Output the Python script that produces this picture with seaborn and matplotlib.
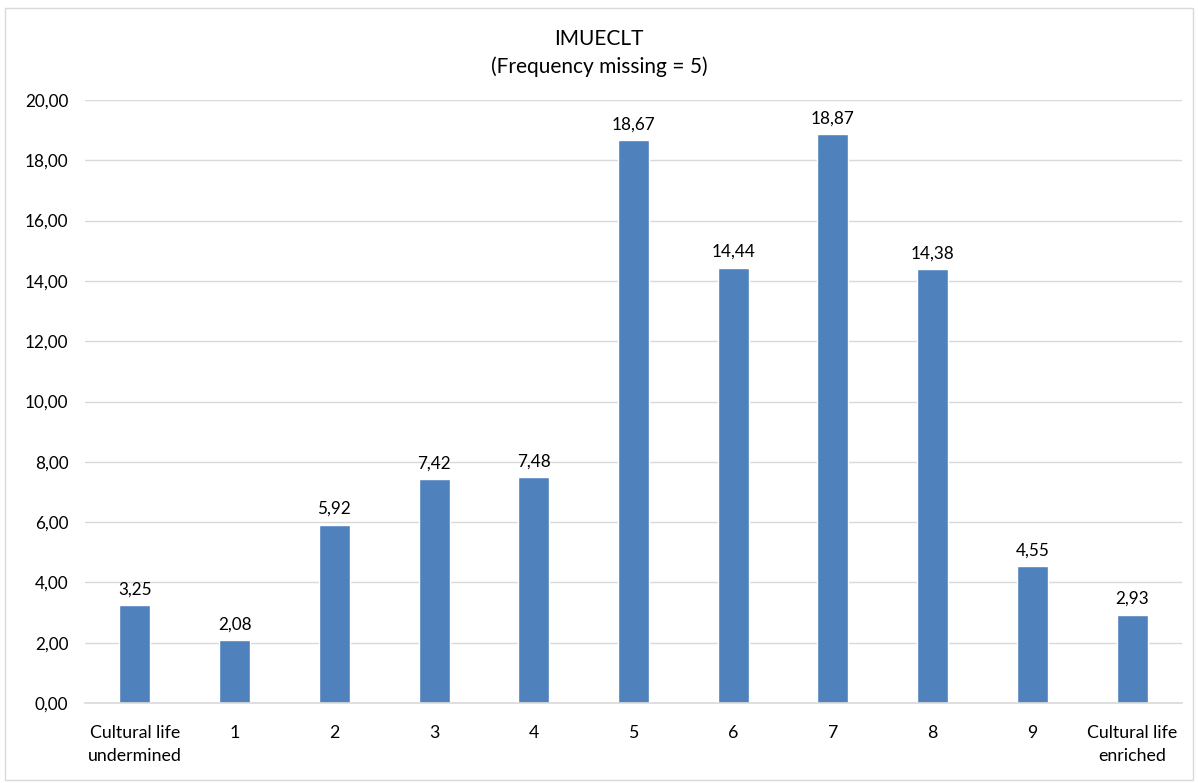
import matplotlib
matplotlib.use("Agg")
import matplotlib.pyplot as plt
import seaborn as sns
import pandas as pd
from matplotlib.patches import Rectangle

categories = ["Cultural life\nundermined", "1", "2", "3", "4", "5", "6", "7", "8", "9", "Cultural life\nenriched"]
values = [3.25, 2.08, 5.92, 7.42, 7.48, 18.67, 14.44, 18.87, 14.38, 4.55, 2.93]
yticks = [0, 2, 4, 6, 8, 10, 12, 14, 16, 18, 20]
title = "IMUECLT\n(Frequency missing = 5)"

sns.set_theme(style="white")
plt.rcParams['font.family'] = ['Lato', 'DejaVu Sans']

df = pd.DataFrame({"cat": categories, "val": values})

fig = plt.figure(figsize=(11.98, 7.83), dpi=100)
ax = fig.add_axes([85/1198, 1-703/783, (1182-85)/1198, (703-100)/783])

sns.barplot(data=df, x="cat", y="val", order=categories, color="#4F81BD",
            saturation=1, width=0.31, ax=ax, zorder=3)

ax.set_ylim(0, 20)
ax.set_xlim(-0.5, len(categories)-0.5)
ax.set_yticks(yticks)
ax.set_yticklabels([f"{v:.2f}".replace(".", ",") for v in yticks], fontsize=12.3, color="#000000")
ax.set_xticklabels(categories, fontsize=12.8, color="#000000", linespacing=1.55)
ax.set_xlabel("")
ax.set_ylabel("")
ax.grid(axis="y", color="#D9D9D9", linewidth=1, zorder=0)
for s in ["top", "right", "left"]:
    ax.spines[s].set_visible(False)
ax.spines["bottom"].set_color("#D9D9D9")
ax.spines["bottom"].set_linewidth(1.2)
ax.spines["bottom"].set_zorder(4)
ax.tick_params(axis="y", length=0, pad=12)
ax.tick_params(axis="x", length=0, pad=16)

for i, v in enumerate(values):
    ax.annotate(f"{v:.2f}".replace(".", ","), (i, v), xytext=(0, 5.5), textcoords="offset points",
                ha="center", va="bottom", fontsize=12.3, color="#000000")

fig.text(0.5, 1-53/783, title, ha="center", va="center", fontsize=15, color="#000000", linespacing=1.45)

fig.patches.append(Rectangle((5/1198, 3/783), 1188/1198, 772/783, transform=fig.transFigure,
                             fill=False, edgecolor="#D9D9D9", linewidth=1))

fig.savefig("out.png", dpi=100)
